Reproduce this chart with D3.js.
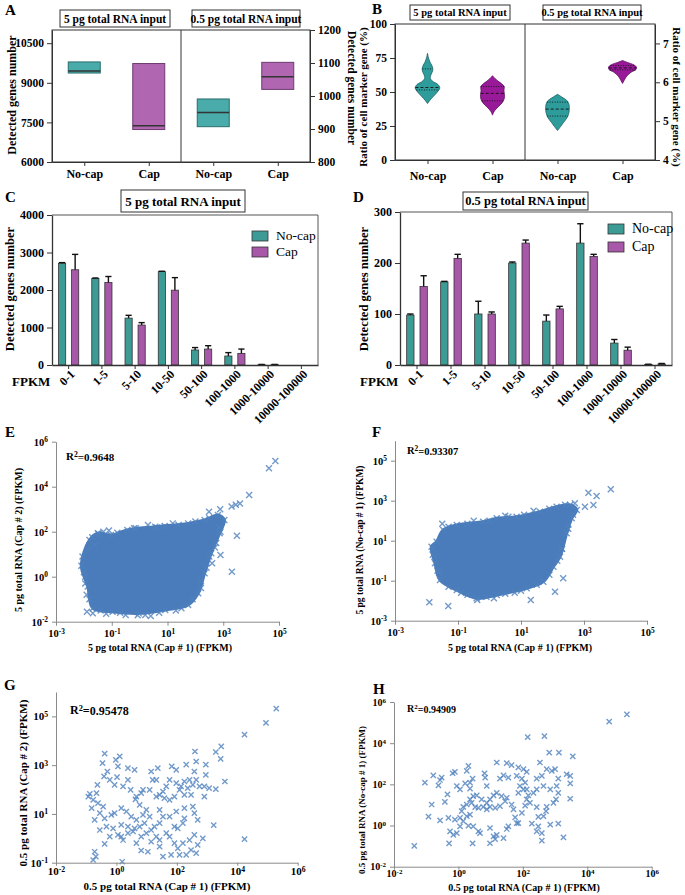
<!DOCTYPE html>
<html>
<head>
<meta charset="utf-8">
<script src="https://cdn.jsdelivr.net/npm/d3@7"></script>
<style>
  body { margin: 0; background: #fff; }
  svg text { font-family: "Liberation Serif", "Times New Roman", serif; font-weight: bold; }
</style>
</head>
<body>
<script>
const groups = ["No-cap", "Cap"];
const inputLabels = ["5 pg total RNA input", "0.5 pg total RNA input"];

// A: detected genes number, [min, median, max]
const genes5pg = [[9370, 9450, 9790], [7230, 7370, 9730]];
const genes05pg = [[907, 950, 991], [1020, 1058, 1102]];

// B: ratio of cell marker gene (%), violin outline as [value, relative density]
const ratio5NoCap = [[41.5, 0], [44, 0.2], [47, 0.5], [50, 0.8], [53, 1], [55.5, 0.85], [58, 0.4], [60.5, 0.22],
  [63, 0.3], [66, 0.43], [69, 0.38], [72, 0.2], [75, 0.08], [78.5, 0]];
const ratio5Cap = [[33, 0], [36, 0.15], [39, 0.45], [42, 0.78], [45, 0.95], [48, 0.97], [51, 0.93], [54, 0.95],
  [56, 0.75], [58, 0.45], [60, 0.2], [62, 0]];
const ratio05NoCap = [[4.76, 0], [4.86, 0.25], [4.97, 0.5], [5.1, 0.8], [5.22, 0.93], [5.32, 0.96], [5.42, 0.94],
  [5.52, 0.8], [5.6, 0.45], [5.69, 0]];
const ratio05Cap = [[5.97, 0], [6.06, 0.15], [6.16, 0.35], [6.26, 0.7], [6.33, 1.1], [6.4, 1.12], [6.46, 0.85],
  [6.51, 0.4], [6.56, 0]];
const ratioQuart5 = [[51.5, 53.3, 67], [43.5, 49, 54]];   // q1, median, q3
const ratioQuart05 = [[5.13, 5.31, 5.49], [6.32, 6.37, 6.43]];

// C, D: genes per FPKM bin, mean and SD
const fpkmBins = ["0-1", "1-5", "5-10", "10-50", "50-100", "100-1000", "1000-10000", "10000-100000"];
const noCap5Mean = [2715, 2310, 1250, 2490, 400, 240, 10, 0];
const noCap5Sd = [15, 10, 75, 10, 65, 90, 5, 0];
const cap5Mean = [2540, 2200, 1065, 1995, 425, 310, 10, 0];
const cap5Sd = [410, 160, 65, 335, 90, 115, 5, 0];
const noCap05Mean = [98, 163, 100, 200, 86, 239, 43, 1];
const noCap05Sd = [2, 1, 25, 2, 12, 38, 7, 0.5];
const cap05Mean = [154, 209, 100, 239, 110, 213, 29, 2];
const cap05Sd = [21, 8, 4, 6, 5, 4, 6, 1];

// E, F: log10 FPKM. dense clouds given as outline + scattered points
const capCap5Outline = [[-2.09, 0.49], [-1.8, 1.63], [-1.5, 1.93], [-1.03, 1.85], [-0.44, 2.08], [0.56, 2.22],
  [1.74, 2.37], [2.33, 2.52], [2.81, 2.74], [3.04, 2.52], [2.87, 1.93], [2.57, 1.04], [2.33, 0.15], [2.1, -0.74],
  [1.74, -1.26], [0.92, -1.48], [-0.03, -1.63], [-0.97, -1.56], [-1.68, -1.4], [-1.86, -0.44]];
const capCap5Points = [[4.87, 5.14], [4.64, 4.82], [3.93, 3.63], [3.6, 3.25], [3.45, 3.2], [3.3, 3.12], [2.89, 3.0],
  [2.49, 2.89], [3.49, 1.82], [2.9, 0.96], [3.31, 0.22], [-1.89, -1.56], [-1.68, -1.62], [-2.05, 0.9], [-1.47, 1.9],
  [-1.1, 2.05], [-0.14, 2.15], [0.62, 2.19], [1.19, 2.37], [-0.5, -1.7], [-0.07, -1.71], [0.4, -1.75], [1.3, -1.5],
  [2.2, -0.2], [2.6, 0.6], [2.75, 1.5], [-1.95, 0.0], [-1.8, -1.0], [-1.6, 1.4], [1.9, -1.0],
  [-1.7, 1.75], [-1.3, 2.0], [-0.8, 1.95], [-0.2, 2.15], [0.3, 2.3], [0.9, 2.25], [1.4, 2.3], [2.0, 2.45], [2.5, 2.6],
  [-2.0, 0.2], [-1.95, -0.3], [-1.9, -0.8], [-1.85, 1.2], [-1.4, -1.5], [-1.2, -1.65], [-0.7, -1.6], [0.2, -1.7],
  [0.7, -1.6], [1.5, -1.4], [2.2, -0.5], [2.4, 0.4], [2.5, 0.9], [2.7, 1.3], [2.85, 2.2], [2.9, 2.0]];
const noCapCap5Outline = [[-1.84, 0.7], [-1.68, 0.95], [-1.47, 1.54], [-1.04, 1.79], [-0.2, 1.95], [0.23, 2.12],
  [0.86, 2.2], [1.6, 2.45], [2.13, 2.7], [2.56, 2.79], [2.77, 2.54], [2.61, 2.12], [2.45, 1.37], [2.24, 0.2],
  [2.03, -0.3], [1.71, -1.05], [1.18, -1.38], [0.23, -1.72], [-0.41, -1.88], [-1.04, -1.47], [-1.57, -0.97],
  [-1.73, -0.13]];
const noCapCap5Points = [[3.85, 3.57], [3.14, 3.4], [3.4, 3.24], [3.3, 2.79], [3.03, 2.7], [2.71, 2.87], [2.34, -0.88],
  [2.08, -1.55], [-1.91, -2.08], [-1.31, -2.27], [1.31, -1.97], [-0.39, -1.97], [0.14, -1.88], [-1.5, 1.85],
  [-0.5, 2.0], [0.5, 2.25], [1.4, 2.5], [-1.8, 0.3], [-1.6, -0.6], [2.5, 1.8], [2.3, 0.6], [-0.9, -1.6], [0.8, -1.6],
  [-1.3, 1.7], [-0.7, 1.85], [0.0, 2.0], [0.6, 2.2], [1.1, 2.3], [1.9, 2.6], [2.4, 2.8], [-1.8, 0.6], [-1.75, 0.2],
  [-1.65, -0.5], [-1.3, -1.3], [-0.7, -1.7], [-0.1, -1.8], [0.5, -1.65], [1.0, -1.5], [1.5, -1.2], [1.9, -0.7],
  [2.15, 0.0], [2.3, 0.6], [2.5, 1.6], [2.65, 2.3]];

// G, H: log10 FPKM points
const capCap05 = [[5.29, 5.32], [4.95, 4.73], [4.24, 4.25], [2.6, 3.56], [3.29, 3.54], [3.47, 3.77], [3.45, 3.26],
  [3.59, 2.33], [3.22, 0.54], [4.24, -0.03], [-0.39, 3.47], [-0.46, 3.08], [-0.02, 3.22], [0.11, 3.36], [0.05, 2.95],
  [-0.3, 2.74], [-0.41, 2.54], [-0.22, 2.4], [0.02, 2.51], [0.38, 2.88], [0.6, 2.81], [-0.63, 2.19], [-0.88, 1.82],
  [-0.93, 1.71], [-0.66, 1.85], [-0.06, 2.19], [0.22, 2.13], [0.38, 2.4], [0.47, 1.99], [0.66, 1.71], [0.82, 1.85],
  [0.88, 1.99], [0.63, 1.6], [0.77, 1.37], [1.15, 2.74], [1.37, 2.88], [1.2, 2.4], [1.32, 2.4], [1.1, 1.99],
  [1.83, 2.95], [1.98, 2.81], [2.31, 3.02], [2.64, 3.15], [2.96, 3.02], [2.96, 2.6], [2.58, 2.74], [2.42, 2.4],
  [2.25, 2.33], [2.14, 2.13], [1.98, 2.26], [1.76, 2.4], [1.65, 2.13], [1.54, 1.92], [1.43, 1.78], [1.32, 1.71],
  [1.59, 1.65], [1.76, 1.58], [1.92, 1.71], [2.09, 1.99], [2.36, 2.06], [2.53, 2.19], [2.64, 2.4], [2.75, 2.13],
  [2.91, 2.13], [3.07, 2.06], [3.29, 2.02], [2.91, 1.71], [2.47, 1.78], [2.25, 1.78], [-0.77, 1.58], [-0.61, 1.44],
  [-0.44, 1.3], [-0.82, 1.24], [-0.55, 1.03], [-0.39, 0.82], [-0.17, 0.96], [-0.06, 1.03], [0.16, 1.24], [0.33, 1.1],
  [0.49, 0.89], [0.66, 0.76], [0.88, 0.96], [0.99, 1.17], [1.1, 0.89], [0.93, 0.62], [0.77, 0.48], [0.6, 0.41],
  [0.38, 0.48], [0.16, 0.55], [-0.11, 0.41], [-0.33, 0.48], [-0.55, 0.34], [-0.72, 0.76], [-0.22, 0.07], [0.05, 0.14],
  [0.22, -0.07], [0.38, 0.21], [0.55, 0.28], [0.82, 0.07], [0.99, 0.21], [1.15, 0.34], [1.26, 0.48], [1.43, 0.62],
  [1.54, 0.89], [1.43, 1.17], [1.76, 0.89], [1.92, 0.48], [2.03, 0.41], [2.2, 0.62], [2.25, 0.82], [2.53, 1.3],
  [2.58, 1.03], [2.69, 0.76], [2.25, 1.24], [1.98, 1.1], [1.32, 0.07], [1.43, -0.07], [1.65, 0.21], [1.76, 0.07],
  [1.92, -0.2], [2.03, -0.41], [2.2, -0.2], [2.42, -0.07], [2.58, 0.14], [2.86, 0.0], [2.69, -0.27], [2.47, -0.48],
  [2.31, -0.68], [2.09, -0.68], [1.81, -0.68], [1.54, -0.75], [1.43, -0.34], [1.15, -0.14], [1.04, -0.55],
  [0.82, -0.5], [0.66, -0.2], [0.16, 0.07], [-0.39, -0.23], [-0.72, -0.55], [-0.68, -0.75], [-0.77, -0.89],
  [0.19, -0.96], [2.64, -0.61]];
const noCapCap05 = [[5.23, 5.4], [4.68, 5.05], [2.15, 4.29], [2.67, 4.34], [2.82, 3.54], [3.12, 3.54], [3.55, 3.36],
  [-1.37, -0.99], [-0.29, -0.87], [0.44, -0.87], [3.26, -0.58], [2.53, 3.06], [0.31, 2.9], [0.26, 2.65], [-0.11, 2.61],
  [-0.18, 2.54], [-0.78, 2.44], [-0.52, 2.33], [-0.57, 2.21], [-1.04, 2.08], [-0.62, 1.95], [-0.05, 1.92], [0.05, 1.76],
  [0.21, 2.05], [0.36, 2.08], [0.44, 2.28], [0.36, 1.79], [0.81, 2.54], [0.83, 2.33], [0.88, 1.92], [1.19, 3.06],
  [1.29, 2.28], [1.5, 3.03], [1.65, 2.93], [1.86, 2.82], [2.02, 2.74], [2.12, 2.61], [1.81, 2.41], [1.55, 2.33],
  [1.4, 2.44], [1.97, 2.28], [2.07, 2.08], [1.91, 1.92], [2.02, 1.76], [1.86, 1.59], [2.12, 1.76], [2.17, 1.46],
  [2.43, 2.28], [2.59, 2.41], [2.74, 2.74], [2.9, 2.65], [3.0, 2.74], [3.1, 2.28], [3.36, 2.49], [3.47, 2.41],
  [3.47, 2.05], [3.05, 1.92], [2.85, 1.76], [2.64, 1.92], [2.43, 1.76], [2.33, 1.59], [3.1, 1.59], [3.03, 1.27],
  [2.95, 1.1], [3.47, 1.3], [2.74, 0.91], [2.72, 0.7], [2.43, 0.89], [-0.34, 1.51], [-0.42, 1.15], [-0.83, 1.02],
  [-0.93, 0.43], [-0.57, 0.25], [-0.31, 0.37], [-0.11, 0.29], [0.05, 0.37], [0.1, 0.7], [0.15, 0.91], [0.26, 1.02],
  [0.36, 1.27], [0.41, 1.1], [0.46, 1.43], [0.57, 1.46], [0.72, 1.27], [0.88, 1.1], [0.98, 1.27], [1.09, 1.46],
  [1.19, 1.59], [1.34, 1.43], [1.45, 1.18], [1.29, 0.94], [1.14, 0.86], [0.98, 0.91], [0.88, 0.78], [0.77, 0.91],
  [0.62, 0.86], [0.52, 0.89], [0.36, 0.53], [0.26, 0.45], [0.15, 0.21], [0.05, -0.04], [-0.05, -0.37], [-0.26, -0.28],
  [-0.16, -0.45], [0.31, -0.01], [0.46, -0.04], [0.67, -0.37], [0.98, -0.12], [1.09, -0.53], [1.19, -0.45],
  [1.4, -0.61], [1.55, -0.04], [1.5, -0.17], [1.71, 0.78], [1.76, 0.4], [1.81, 0.12], [1.86, 0.12], [1.97, 0.61],
  [2.07, 0.97], [2.12, 1.27], [2.22, 1.1], [2.28, 0.09], [2.48, -0.04], [2.43, -0.28], [2.59, -0.37], [2.59, -0.73],
  [2.85, 0.04], [3.1, 0.09], [2.48, 0.42], [2.64, 0.45], [1.5, 1.35], [1.65, 1.02], [0.98, -0.86], [1.14, -0.66],
  [0.62, -0.28]];

const tealA = "#4aabab", purpleA = "#b066b0";
const tealB = "#2f9c9c", purpleB = "#981a98";
const tealC = "#3d9b95", purpleC = "#a858a9";
const cloudBlue = "#4a7cbc", pointBlue = "#4f81bd";
const plain = d3.format("d");

const svg = d3.select("body").append("svg").attr("width", 685).attr("height", 895);

function text(x, y, str, size, opts = {}) {
  const t = svg.append("text").attr("x", x).attr("y", y).attr("font-size", size).text(str);
  if (opts.anchor) t.attr("text-anchor", opts.anchor);
  if (opts.rotate) t.attr("transform", `rotate(${opts.rotate},${x},${y})`);
  if (opts.normal) t.style("font-weight", "normal");
  return t;
}

function titleBox(x, y, w, h, str, size) {
  svg.append("rect").attr("x", x).attr("y", y).attr("width", w).attr("height", h)
    .attr("fill", "#fff").attr("stroke", "#333").attr("stroke-width", 1);
  text(x + w / 2, y + h / 2 + size * 0.35, str, size, { anchor: "middle" });
}

function styleAxis(sel, size) {
  sel.selectAll("path,line").attr("stroke", "#333");
  sel.selectAll("text").attr("font-size", size).attr("fill", "#000")
    .attr("font-family", null);
}

// ---------- A ----------
(function () {
  const g = svg.append("g");
  const halves = [
    { x0: 52, x1: 181, y: d3.scaleLinear().domain([6000, 11000]).range([162, 30]), data: genes5pg },
    { x0: 181, x1: 310, y: d3.scaleLinear().domain([800, 1200]).range([162, 30]), data: genes05pg }
  ];
  halves.forEach(h => {
    const x = d3.scalePoint().domain(groups).range([h.x0, h.x1]).padding(0.5);
    g.selectAll(null).data(h.data).join("rect")
      .attr("x", (d, i) => x(groups[i]) - 16).attr("width", 32)
      .attr("y", d => h.y(d[2])).attr("height", d => h.y(d[0]) - h.y(d[2]))
      .attr("fill", (d, i) => i ? purpleA : tealA)
      .attr("stroke", (d, i) => i ? "#6e3b70" : "#2a6e6e").attr("stroke-width", 1);
    g.selectAll(null).data(h.data).join("line")
      .attr("x1", (d, i) => x(groups[i]) - 16).attr("x2", (d, i) => x(groups[i]) + 16)
      .attr("y1", d => h.y(d[1])).attr("y2", d => h.y(d[1]))
      .attr("stroke", "#333").attr("stroke-width", 1.5);
    const ax = g.append("g").attr("transform", "translate(0,162)")
      .call(d3.axisBottom(x).tickSize(4).tickSizeOuter(0).tickPadding(3));
    styleAxis(ax, 12);
  });
  const yl = g.append("g").attr("transform", "translate(52,0)")
    .call(d3.axisLeft(halves[0].y).tickValues([6000, 7500, 9000, 10500]).tickFormat(plain).tickSize(5).tickSizeOuter(0));
  styleAxis(yl, 11.5);
  const yr = g.append("g").attr("transform", "translate(310,0)")
    .call(d3.axisRight(halves[1].y).tickValues([800, 900, 1000, 1100, 1200]).tickFormat(plain).tickSize(5).tickSizeOuter(0));
  styleAxis(yr, 11.5);
  g.append("rect").attr("x", 52).attr("y", 30).attr("width", 258).attr("height", 132)
    .attr("fill", "none").attr("stroke", "#333");
  g.append("line").attr("x1", 181).attr("x2", 181).attr("y1", 30).attr("y2", 162).attr("stroke", "#333");
  titleBox(60, 10, 110, 17, inputLabels[0], 11.5);
  titleBox(192, 10, 108, 17, inputLabels[1], 11.5);
  text(5, 15, "A", 15);
  text(16, 95, "Detected genes number", 12, { anchor: "middle", rotate: -90 });
  text(348, 88, "Detected genes number", 11.5, { anchor: "middle", rotate: 90 });
})();

// ---------- B ----------
(function () {
  const g = svg.append("g");
  const w = d3.scaleLinear().domain([0, 1]).range([0, 12.3]);
  const halves = [
    { x0: 395, x1: 525, y: d3.scaleLinear().domain([0, 100]).range([160, 24]), prof: [ratio5NoCap, ratio5Cap], q: ratioQuart5 },
    { x0: 525, x1: 655, y: d3.scaleLinear().domain([4, 7.5]).range([160, 24]), prof: [ratio05NoCap, ratio05Cap], q: ratioQuart05 }
  ];
  halves.forEach(h => {
    const x = d3.scalePoint().domain(groups).range([h.x0, h.x1]).padding(0.5);
    groups.forEach((grp, i) => {
      const cx = x(grp), prof = h.prof[i];
      const area = d3.area().curve(d3.curveCatmullRom)
        .y(d => h.y(d[0])).x0(d => cx - w(d[1])).x1(d => cx + w(d[1]));
      g.append("path").attr("d", area(prof))
        .attr("fill", i ? purpleB : tealB).attr("stroke", i ? "#5e105e" : "#1c6262").attr("stroke-width", 0.8);
      const dens = d3.scaleLinear().domain(prof.map(d => d[0])).range(prof.map(d => d[1]));
      h.q[i].forEach((v, k) => {
        g.append("line").attr("x1", cx - w(dens(v))).attr("x2", cx + w(dens(v)))
          .attr("y1", h.y(v)).attr("y2", h.y(v))
          .attr("stroke", "#111").attr("stroke-width", 0.9)
          .attr("stroke-dasharray", k === 1 ? "3,2" : "1,1.5");
      });
    });
    const ax = g.append("g").attr("transform", "translate(0,160)")
      .call(d3.axisBottom(x).tickSize(4).tickSizeOuter(0).tickPadding(7));
    styleAxis(ax, 12);
  });
  const yl = g.append("g").attr("transform", "translate(395,0)")
    .call(d3.axisLeft(halves[0].y).tickValues([0, 25, 50, 75, 100]).tickFormat(plain).tickSize(5).tickSizeOuter(0));
  styleAxis(yl, 11.5);
  const yr = g.append("g").attr("transform", "translate(655,0)")
    .call(d3.axisRight(halves[1].y).tickValues([4, 5, 6, 7]).tickFormat(plain).tickSize(5).tickSizeOuter(0).tickPadding(3));
  styleAxis(yr, 11.5);
  g.append("rect").attr("x", 395).attr("y", 24).attr("width", 260).attr("height", 136)
    .attr("fill", "none").attr("stroke", "#333");
  g.append("line").attr("x1", 525).attr("x2", 525).attr("y1", 24).attr("y2", 160).attr("stroke", "#333");
  titleBox(410, 5, 100, 15, inputLabels[0], 10.5);
  titleBox(543, 5, 98, 15, inputLabels[1], 10.5);
  text(372, 14, "B", 15);
  text(367, 97, "Ratio of cell marker gene (%)", 11, { anchor: "middle", rotate: -90 });
  text(673, 97, "Ratio of cell marker gene (%)", 11, { anchor: "middle", rotate: 90 });
})();

// ---------- C, D ----------
function barPanel(cfg) {
  const g = svg.append("g");
  const x = d3.scaleBand().domain(fpkmBins).range([cfg.x0, cfg.x1]);
  const sub = d3.scaleBand().domain(groups).range([0, x.bandwidth()]).paddingInner(0.45).paddingOuter(0.5);
  const y = d3.scaleLinear().domain([0, cfg.max]).range([365, cfg.top]);
  const series = [{ mean: cfg.noCap, sd: cfg.noCapSd, c: tealC }, { mean: cfg.cap, sd: cfg.capSd, c: purpleC }];
  series.forEach((s, si) => {
    const bx = (d, i) => x(fpkmBins[i]) + sub(groups[si]);
    g.selectAll(null).data(s.mean).join("rect")
      .attr("x", bx).attr("width", sub.bandwidth())
      .attr("y", d => y(d)).attr("height", d => y(0) - y(d))
      .attr("fill", s.c).attr("stroke", "#333").attr("stroke-width", 0.8);
    const eb = g.selectAll(null).data(s.mean.map((m, i) => [m, s.sd[i], i]).filter(d => d[1] > 0)).join("g");
    eb.append("line")
      .attr("x1", d => bx(0, d[2]) + sub.bandwidth() / 2).attr("x2", d => bx(0, d[2]) + sub.bandwidth() / 2)
      .attr("y1", d => y(d[0])).attr("y2", d => y(d[0] + d[1])).attr("stroke", "#111").attr("stroke-width", 1.4);
    eb.append("line")
      .attr("x1", d => bx(0, d[2]) + 0.5).attr("x2", d => bx(0, d[2]) + sub.bandwidth() - 0.5)
      .attr("y1", d => y(d[0] + d[1])).attr("y2", d => y(d[0] + d[1])).attr("stroke", "#111").attr("stroke-width", 1.4);
  });
  const yl = g.append("g").attr("transform", `translate(${cfg.x0},0)`)
    .call(d3.axisLeft(y).tickValues(cfg.ticks).tickFormat(plain).tickSize(5).tickSizeOuter(0));
  styleAxis(yl, 12);
  yl.select(".domain").attr("stroke-width", 1.3);
  const xb = g.append("g").attr("transform", "translate(0,365)")
    .call(d3.axisBottom(x).tickSize(4).tickSizeOuter(0));
  styleAxis(xb, 12);
  xb.select(".domain").attr("stroke-width", 1.3);
  xb.selectAll(".tick text").attr("text-anchor", "end").attr("y", 0).attr("dy", "0.35em")
    .attr("transform", "translate(4,7) rotate(-45)");
  g.append("path").attr("d", `M${cfg.x0},${cfg.top}H${cfg.x1}V365`).attr("fill", "none").attr("stroke", "#555");
  titleBox(cfg.box[0], cfg.box[1], cfg.box[2], cfg.box[3], cfg.title, cfg.titleSize);
  text(cfg.x0 - 40, 386, "FPKM", 13);
  text(cfg.labelX, 289, "Detected genes number", 12.5, { anchor: "middle", rotate: -90 });
  text(cfg.x0 - 47, 202, cfg.letter, 15);
  cfg.legend.forEach((ly, i) => {
    svg.append("rect").attr("x", cfg.legX).attr("y", ly).attr("width", 16).attr("height", 10)
      .attr("fill", i ? purpleC : tealC).attr("stroke", "#333").attr("stroke-width", 0.8);
    text(cfg.legX + 24, ly + 9, groups[i], cfg.legSize, { normal: true });
  });
}
barPanel({ x0: 52, x1: 318, top: 215, max: 4000, ticks: [0, 1000, 2000, 3000, 4000],
  noCap: noCap5Mean, noCapSd: noCap5Sd, cap: cap5Mean, capSd: cap5Sd, title: inputLabels[0], titleSize: 13,
  box: [121, 190, 124, 22], labelX: 14, letter: "C", legend: [231, 247], legX: 252, legSize: 13.5 });
barPanel({ x0: 400, x1: 672, top: 212, max: 300, ticks: [0, 100, 200, 300],
  noCap: noCap05Mean, noCapSd: noCap05Sd, cap: cap05Mean, capSd: cap05Sd, title: inputLabels[1], titleSize: 12.5,
  box: [463, 192, 125, 18], labelX: 368, letter: "D", legend: [224, 242], legX: 608, legSize: 14 });

// ---------- E-H ----------
function scatter(cfg) {
  const g = svg.append("g");
  const x = d3.scaleLog().domain(cfg.xDom).range(cfg.xRange);
  const y = d3.scaleLog().domain(cfg.yDom).range(cfg.yRange);
  const px = d => x(Math.pow(10, d[0])), py = d => y(Math.pow(10, d[1]));
  if (cfg.outline) {
    g.append("path").datum(cfg.outline)
      .attr("d", d3.line().x(px).y(py).curve(d3.curveCatmullRomClosed.alpha(0.5)))
      .attr("fill", cloudBlue).attr("stroke", cloudBlue).attr("stroke-width", 3).attr("stroke-linejoin", "round");
  }
  const s = cfg.mark;
  const pts = cfg.outline ? cfg.outline.concat(cfg.points) : cfg.points;
  g.selectAll(null).data(pts).join("path")
    .attr("transform", d => `translate(${px(d)},${py(d)})`)
    .attr("d", `M${-s},${-s}L${s},${s}M${-s},${s}L${s},${-s}`)
    .attr("fill", "none").attr("stroke", pointBlue).attr("stroke-width", 1.4).attr("stroke-opacity", 0.8);

  const sup = (sel, size) => {
    sel.selectAll(".tick text").attr("font-size", size).attr("fill", "#000").attr("font-family", null)
      .each(function (d) {
        const t = d3.select(this).text("10");
        t.append("tspan").attr("dy", "-0.45em").attr("font-size", "0.7em").text(Math.round(Math.log10(d)));
      });
    sel.selectAll("path,line").attr("stroke", "#8a8a8a");
  };
  const xa = g.append("g").attr("transform", `translate(0,${cfg.yRange[0]})`)
    .call(d3.axisBottom(x).tickValues(cfg.xTicks).tickSize(cfg.xTickSize).tickSizeOuter(0).tickPadding(cfg.xPad));
  sup(xa, cfg.tick);
  const ya = g.append("g").attr("transform", `translate(${cfg.xRange[0]},0)`)
    .call(d3.axisLeft(y).tickValues(cfg.yTicks).tickSize(4).tickSizeOuter(0).tickPadding(4));
  sup(ya, cfg.tick);

  const r = text(cfg.r2[0], cfg.r2[1], "R", cfg.r2[2]);
  r.append("tspan").attr("dy", "-0.4em").attr("font-size", "0.7em").text("2");
  r.append("tspan").attr("dy", "0.4em").text("=" + cfg.r2[3]);
  text(cfg.xl[0], cfg.xl[1], cfg.xl[2], cfg.xl[3], { anchor: "middle" });
  text(cfg.yl[0], cfg.yl[1], cfg.yl[2], cfg.yl[3], { anchor: "middle", rotate: -90 });
  text(cfg.letter[0], cfg.letter[1], cfg.letter[2], 15);
}
const dec = a => a.map(e => Math.pow(10, e));
scatter({ xDom: [1e-3, 1e5], xRange: [56, 279], yDom: [1e-2, 1e6], yRange: [621.7, 441.7],
  xTicks: dec([-3, -1, 1, 3, 5]), yTicks: dec([-2, 0, 2, 4, 6]), tick: 10.5, mark: 3, xTickSize: 4, xPad: 4,
  outline: capCap5Outline, points: capCap5Points, r2: [66, 460, 11, "0.9648"],
  xl: [160, 651, "5 pg total RNA (Cap # 1) (FPKM)", 10], yl: [22, 540, "5 pg total RNA (Cap # 2) (FPKM)", 10],
  letter: [5, 437, "E"] });
scatter({ xDom: [1e-3, 1e5], xRange: [395, 647], yDom: [1e-3, 1e6], yRange: [620.7, 440.7],
  xTicks: dec([-3, -1, 1, 3, 5]), yTicks: dec([-3, -1, 1, 3, 5]), tick: 10.5, mark: 3, xTickSize: 4, xPad: 4,
  outline: noCapCap5Outline, points: noCapCap5Points, r2: [407, 454, 10.5, "0.93307"],
  xl: [520, 651, "5 pg total RNA (Cap # 1) (FPKM)", 10], yl: [363, 540, "5 pg total RNA (No-cap # 1) (FPKM)", 9.5],
  letter: [372, 437, "F"] });
scatter({ xDom: [1e-2, 1e6], xRange: [56, 297.7], yDom: [1e-1, 1e6], yRange: [862.7, 692],
  xTicks: dec([-2, 0, 2, 4, 6]), yTicks: dec([-1, 1, 3, 5]), tick: 11, mark: 2.6, xTickSize: 3, xPad: 2,
  points: capCap05, r2: [70, 714, 12, "0.95478"],
  xl: [167, 890, "0.5 pg total RNA (Cap # 1) (FPKM)", 11], yl: [27, 783, "0.5 pg total RNA (Cap # 2) (FPKM)", 11],
  letter: [4, 690, "G"] });
scatter({ xDom: [1e-2, 1e6], xRange: [394, 651.7], yDom: [1e-2, 1e6], yRange: [866.7, 702],
  xTicks: dec([-2, 0, 2, 4, 6]), yTicks: dec([-2, 0, 2, 4, 6]), tick: 10, mark: 2.6, xTickSize: 3, xPad: 0,
  points: noCapCap05, r2: [407, 712, 10, "0.94909"],
  xl: [524, 891, "0.5 pg total RNA (Cap # 1) (FPKM)", 10], yl: [365, 800, "0.5 pg total RNA (No-cap # 1) (FPKM)", 9],
  letter: [373, 694, "H"] });
</script>
</body>
</html>
